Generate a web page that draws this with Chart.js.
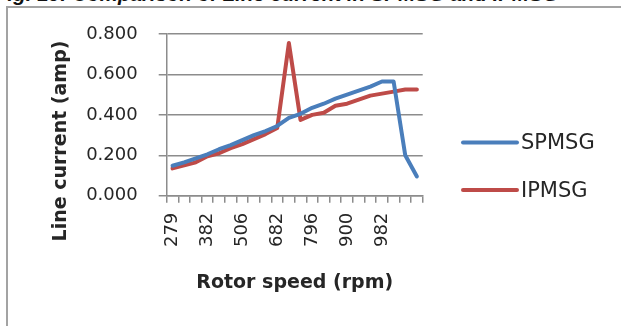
<!DOCTYPE html>
<html>
<head>
<meta charset="utf-8">
<script src="https://cdn.jsdelivr.net/npm/chart.js@4.4.0/dist/chart.umd.min.js"></script>
<style>
    html, body { margin: 0; padding: 0; background: #fff; }
    body { width: 621px; height: 326px; position: relative; overflow: hidden; }
    .caption { position: absolute; left: -5px; top: -16px; font: bold italic 20.5px "Liberation Sans", Arial, sans-serif; line-height: 20.5px; color: #111; white-space: nowrap; }
    .frame { position: absolute; left: 6px; top: 6px; width: 640px; height: 340px; border-left: 2px solid #a3a3a3; border-top: 2px solid #a3a3a3; }
    #myChart { position: absolute; left: 0; top: 0; }
</style>
</head>
<body>
<div class="caption">Fig. 10: Comparison of Line current in SPMSG and IPMSG</div>
<div class="frame"></div>
<canvas id="myChart" width="621" height="326"></canvas>
<script>
// rotor speed categories (rpm)
const rpm = [279, 313, 348, 382, 423, 465, 506, 565, 623, 682, 720, 758, 796, 831, 865, 900, 927, 955, 982, 1010, 1038, 1066];
// labels printed under the axis
const tickLabels = ['279', '382', '506', '682', '796', '900', '982'];
// line current (amp)
const spmsg = [0.148, 0.165, 0.185, 0.205, 0.230, 0.250, 0.275, 0.300, 0.320, 0.345, 0.385, 0.405, 0.435, 0.455, 0.480, 0.500, 0.520, 0.540, 0.565, 0.565, 0.200, 0.095];
const ipmsg = [0.135, 0.150, 0.165, 0.195, 0.210, 0.235, 0.255, 0.280, 0.305, 0.335, 0.755, 0.375, 0.400, 0.410, 0.445, 0.455, 0.475, 0.495, 0.505, 0.515, 0.525, 0.525];

const yTitle = 'Line current (amp)';
const gridColor = '#8c8c8c';
const textColor = '#262626';

// y title sits lower than the axis middle, and the legend sits right of the plot
const sideLegend = {
    id: 'sideLegend',
    afterDraw(chart) {
        const c = chart.ctx;
        c.save();
        c.fillStyle = textColor;
        c.font = 'bold 19px "DejaVu Sans"';
        c.textAlign = 'center';
        c.textBaseline = 'middle';
        c.translate(61.5, 141);
        c.rotate(-Math.PI / 2);
        c.fillText(yTitle, 0, 0);
        c.restore();

        c.save();
        chart.data.datasets.forEach((ds, i) => {
            const y = 142.5 + i * 47.5;
            c.strokeStyle = ds.borderColor;
            c.lineWidth = 4;
            c.lineCap = 'round';
            c.beginPath();
            c.moveTo(463, y);
            c.lineTo(517, y);
            c.stroke();
            c.fillStyle = textColor;
            c.font = '21px "DejaVu Sans"';
            c.textBaseline = 'middle';
            c.fillText(ds.label, 521, y + 1.5);
        });
        c.restore();
    }
};

const ctx = document.getElementById('myChart');

new Chart(ctx, {
    type: 'line',
    data: {
        labels: rpm.map(String),
        datasets: [{
            label: 'SPMSG',
            data: spmsg,
            borderColor: '#4a7ebb',
            backgroundColor: '#4a7ebb',
            borderWidth: 4
        }, {
            label: 'IPMSG',
            data: ipmsg,
            borderColor: '#be4b48',
            backgroundColor: '#be4b48',
            borderWidth: 4
        }]
    },
    options: {
        responsive: false,
        animation: false,
        elements: {
            point: { radius: 0 },
            line: { tension: 0, borderCapStyle: 'round', borderJoinStyle: 'round' }
        },
        layout: { padding: { top: 34, right: 198.3, bottom: 0, left: 0 } },
        plugins: {
            legend: { display: false },
            tooltip: { enabled: false }
        },
        scales: {
            x: {
                offset: true,
                grid: { offset: true, drawOnChartArea: false, tickLength: 7, color: gridColor, lineWidth: 1.5 },
                border: { color: gridColor, width: 1.5 },
                ticks: {
                    autoSkip: false,
                    minRotation: 90,
                    maxRotation: 90,
                    padding: 10,
                    color: textColor,
                    font: { family: 'DejaVu Sans', size: 18 },
                    callback: function (value) {
                        const l = this.getLabelForValue(value);
                        return tickLabels.includes(l) ? l : '';
                    }
                },
                title: {
                    display: true,
                    text: 'Rotor speed (rpm)',
                    color: textColor,
                    font: { family: 'DejaVu Sans', size: 19, weight: 'bold' },
                    padding: { top: 0, bottom: 32 }
                },
                afterFit(scale) { scale.height = 130.3; }
            },
            y: {
                min: 0,
                max: 0.8,
                grid: { tickLength: 8, color: gridColor, lineWidth: 1.5 },
                border: { color: gridColor, width: 1.5 },
                ticks: {
                    stepSize: 0.2,
                    padding: 21,
                    color: textColor,
                    font: { family: 'DejaVu Sans', size: 18 },
                    callback: v => v.toFixed(3)
                },
                afterFit(scale) { scale.width = 166.7; }
            }
        }
    },
    plugins: [sideLegend]
});
</script>
</body>
</html>
